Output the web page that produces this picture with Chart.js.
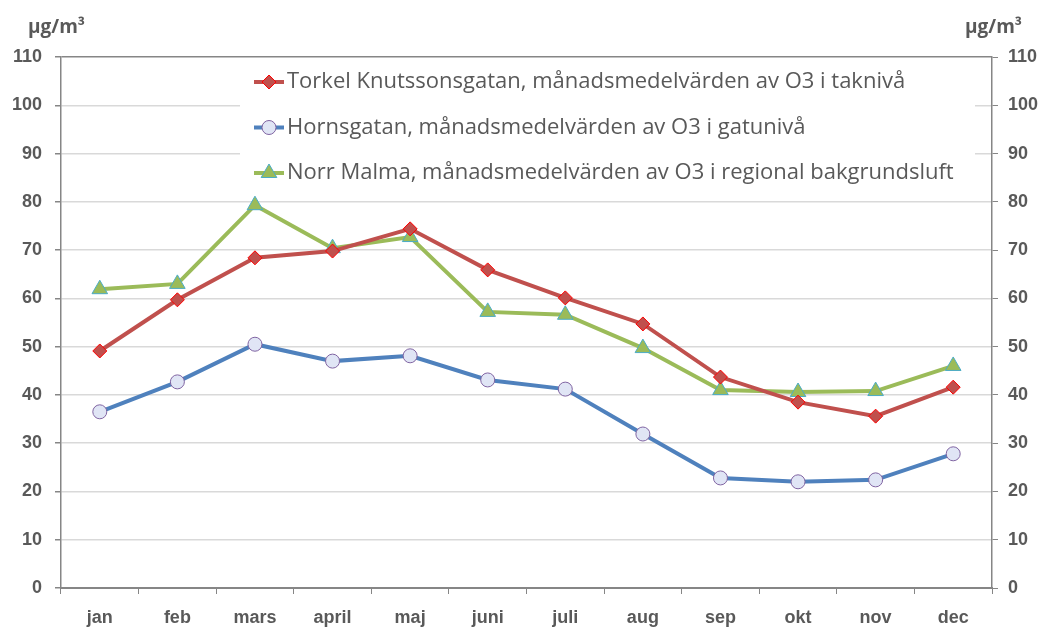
<!DOCTYPE html>
<html>
<head>
<meta charset="utf-8">
<script src="https://cdn.jsdelivr.net/npm/chart.js@4"></script>
<style>
  body { margin: 0; background: #fff; }
  #wrap { width: 1043px; height: 628px; }
</style>
</head>
<body>
<div id="wrap"><canvas id="o3Chart" width="1043" height="628"></canvas></div>
<script>
// månadsmedelvärden O3 (µg/m³)
const months = ['jan', 'feb', 'mars', 'april', 'maj', 'juni', 'juli', 'aug', 'sep', 'okt', 'nov', 'dec'];
const torkel = [49.1, 59.7, 68.4, 69.8, 74.4, 65.9, 60.1, 54.7, 43.7, 38.5, 35.6, 41.6];
const horns = [36.5, 42.7, 50.5, 47.0, 48.1, 43.1, 41.2, 31.9, 22.8, 22.0, 22.4, 27.8];
const norrMalma = [61.9, 63.0, 79.3, 70.4, 72.7, 57.2, 56.6, 49.7, 41.0, 40.6, 40.8, 46.0];
const seriesNames = [
    'Torkel Knutssonsgatan, månadsmedelvärden av O3 i taknivå',
    'Hornsgatan, månadsmedelvärden av O3 i gatunivå',
    'Norr Malma, månadsmedelvärden av O3 i regional bakgrundsluft'
];
const yMin = 0;
const yMax = 110;
const yStep = 10;
const unitLabel = 'µg/m³';

const textColor = '#595959';
const axisColor = '#868686';
const gridColor = '#d9d9d9';

// rita en markör (samma form som i diagrammet) för legenden
function drawMarker(ctx, ds, x, y) {
    const r = ds.pointRadius;
    ctx.save();
    ctx.fillStyle = ds.pointBackgroundColor;
    ctx.strokeStyle = ds.pointBorderColor;
    ctx.lineWidth = ds.pointBorderWidth;
    ctx.beginPath();
    if (ds.pointStyle === 'rectRot') {
        ctx.moveTo(x, y - r); ctx.lineTo(x + r, y); ctx.lineTo(x, y + r); ctx.lineTo(x - r, y);
    } else if (ds.pointStyle === 'triangle') {
        ctx.moveTo(x, y - r); ctx.lineTo(x + r * 0.87, y + r * 0.5); ctx.lineTo(x - r * 0.87, y + r * 0.5);
    } else {
        ctx.arc(x, y, r, 0, Math.PI * 2);
    }
    ctx.closePath();
    ctx.fill();
    ctx.stroke();
    ctx.restore();
}

// legend inne i diagramytan + enhetsetiketter ovanför axlarna
const boxLegend = {
    id: 'boxLegend',
    beforeDatasetsDraw(chart) {
        const ctx = chart.ctx;
        ctx.save();
        ctx.fillStyle = '#ffffff';
        ctx.fillRect(240, 62, 735, 128);
        chart.data.datasets.forEach((ds, i) => {
            const y = 82 + i * 45.5;
            ctx.strokeStyle = ds.borderColor;
            ctx.lineWidth = ds.borderWidth;
            ctx.beginPath();
            ctx.moveTo(254, y);
            ctx.lineTo(284, y);
            ctx.stroke();
            drawMarker(ctx, ds, 269, y);
            ctx.fillStyle = textColor;
            ctx.font = '22px "Open Sans", "Liberation Sans", sans-serif';
            ctx.textBaseline = 'middle';
            ctx.textAlign = 'left';
            ctx.fillText(ds.label, 287, y);
        });
        ctx.restore();
    },
    afterDraw(chart) {
        const ctx = chart.ctx;
        ctx.save();
        ctx.fillStyle = textColor;
        ctx.font = 'bold 19px "Open Sans", "Liberation Sans", sans-serif';
        ctx.textBaseline = 'middle';
        ctx.textAlign = 'left';
        ctx.fillText(unitLabel, 28, 28);
        ctx.fillText(unitLabel, 965, 28);
        ctx.restore();
    }
};

const tickFont = { family: '"Liberation Sans", Arial, sans-serif', size: 18, weight: 'bold' };

const ctx = document.getElementById('o3Chart').getContext('2d');
const chart = new Chart(ctx, {
    type: 'line',
    data: {
        labels: months,
        datasets: [{
            label: seriesNames[0],
            data: torkel,
            borderColor: '#c0504d',
            borderWidth: 4,
            pointStyle: 'rectRot',
            pointRadius: 7,
            pointBackgroundColor: '#c0504d',
            pointBorderColor: '#ff0000',
            pointBorderWidth: 1,
            tension: 0
        }, {
            label: seriesNames[1],
            data: horns,
            borderColor: '#4f81bd',
            borderWidth: 4,
            pointStyle: 'circle',
            pointRadius: 7,
            pointBackgroundColor: '#e0e5f5',
            pointBorderColor: '#8064a2',
            pointBorderWidth: 1,
            tension: 0
        }, {
            label: seriesNames[2],
            data: norrMalma,
            borderColor: '#9bbb59',
            borderWidth: 4,
            pointStyle: 'triangle',
            pointRadius: 9,
            pointBackgroundColor: '#9bbb59',
            pointBorderColor: '#4bacc6',
            pointBorderWidth: 1,
            tension: 0
        }]
    },
    options: {
        responsive: false,
        animation: false,
        layout: { padding: { top: 57, left: 0, right: 0, bottom: 0 } },
        plugins: {
            legend: { display: false },
            tooltip: { enabled: false }
        },
        scales: {
            x: {
                offset: true,
                afterFit: (scale) => { scale.height = 40; },
                grid: {
                    offset: true,
                    drawOnChartArea: false,
                    color: axisColor,
                    tickLength: 6
                },
                border: { color: axisColor, width: 2 },
                ticks: { color: textColor, font: tickFont, padding: 13 }
            },
            y: {
                position: 'left',
                min: yMin,
                max: yMax,
                afterFit: (scale) => { scale.width = 61; },
                grid: {
                    color: (c) => c.tick && c.tick.value === yMax ? axisColor : gridColor,
                    lineWidth: 1.5,
                    tickColor: axisColor,
                    tickLength: 6
                },
                border: { color: axisColor, width: 1.5 },
                ticks: { stepSize: yStep, color: textColor, font: tickFont, padding: 13 }
            },
            y2: {
                position: 'right',
                min: yMin,
                max: yMax,
                afterFit: (scale) => { scale.width = 51; },
                grid: {
                    drawOnChartArea: false,
                    color: axisColor,
                    tickLength: 6
                },
                border: { color: axisColor, width: 1.5 },
                ticks: { stepSize: yStep, color: textColor, font: tickFont, padding: 10 }
            }
        }
    },
    plugins: [boxLegend]
});
</script>
</body>
</html>
